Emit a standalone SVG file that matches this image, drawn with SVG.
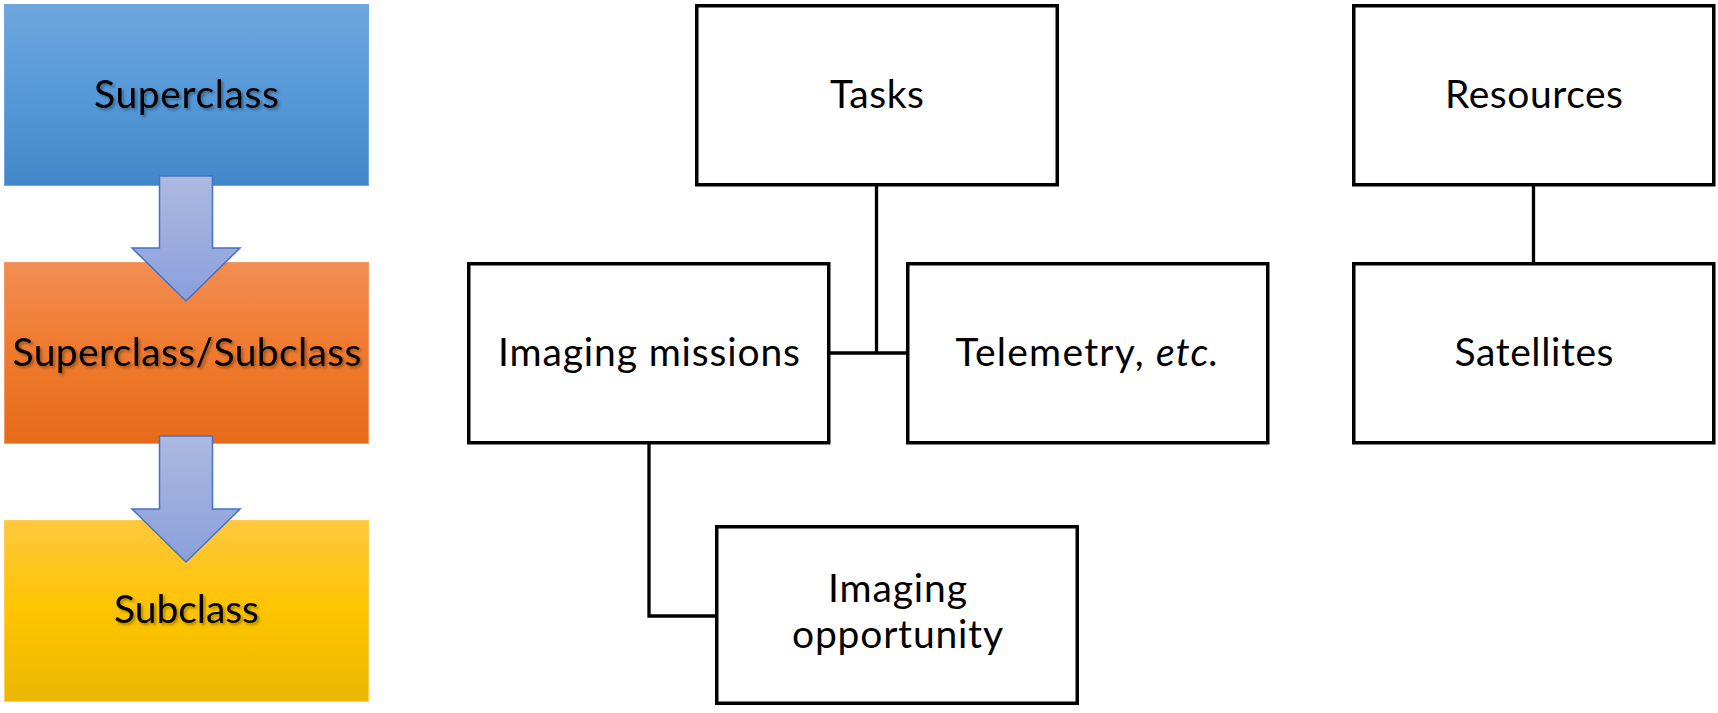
<svg xmlns="http://www.w3.org/2000/svg" width="1718" height="713" viewBox="0 0 1718 713">
<style>
.box{fill:#ffffff;stroke:#000000;stroke-width:3.5}
.lbl{font-family:Lato,"Liberation Sans",sans-serif;font-size:39px;fill:#000000;text-anchor:middle}
.sh{filter:url(#shadow)}
.conn{fill:none;stroke:#000000;stroke-width:3.3}
.arrow{fill:url(#gArrow);stroke:#4472C4;stroke-width:1.5}
</style>
<defs>
<linearGradient id="gBlue" x1="0" y1="0" x2="0" y2="1">
<stop offset="0" stop-color="#6FA6DE"/><stop offset="0.5" stop-color="#5599D8"/><stop offset="1" stop-color="#4287C8"/>
</linearGradient>
<linearGradient id="gOrange" x1="0" y1="0" x2="0" y2="1">
<stop offset="0" stop-color="#F28D52"/><stop offset="0.5" stop-color="#F07A2E"/><stop offset="1" stop-color="#E56B1A"/>
</linearGradient>
<linearGradient id="gYellow" x1="0" y1="0" x2="0" y2="1">
<stop offset="0" stop-color="#FFC73D"/><stop offset="0.5" stop-color="#FFC400"/><stop offset="1" stop-color="#EBB800"/>
</linearGradient>
<linearGradient id="gArrow" x1="0" y1="0" x2="0" y2="1">
<stop offset="0" stop-color="#ACB9E1"/><stop offset="1" stop-color="#8AA0DC"/>
</linearGradient>
<filter id="shadow" x="-10%" y="-30%" width="120%" height="160%">
<feDropShadow dx="2" dy="2" stdDeviation="1.5" flood-color="#000000" flood-opacity="0.35"/>
</filter>
</defs>
<rect width="1718" height="713" fill="#ffffff"/>

<g id="superclass">
<rect x="4.5" y="4.5" width="364" height="181" fill="url(#gBlue)" stroke="#6FA6DE" stroke-width="1"/>
<text class="lbl sh" x="186.5" y="108" textLength="185" lengthAdjust="spacing">Superclass</text>
</g>
<g id="superclass-subclass">
<rect x="4.5" y="262.5" width="364" height="181" fill="url(#gOrange)" stroke="#F29A63" stroke-width="1"/>
<text class="lbl sh" x="187" y="366" textLength="349" lengthAdjust="spacing">Superclass/Subclass</text>
</g>
<g id="subclass">
<rect x="4.5" y="520.5" width="364" height="181" fill="url(#gYellow)" stroke="#FFCC4D" stroke-width="1"/>
<text class="lbl sh" x="186.5" y="623" textLength="145" lengthAdjust="spacing">Subclass</text>
</g>
<g id="arrows">
<path class="arrow" d="M159.5,176 H212.5 V248 H240 L186,301 L132,248 H159.5 Z"/>
<path class="arrow" d="M159.5,436 H212.5 V509 H240 L186,562 L132,509 H159.5 Z"/>
</g>

<g id="connectors">
<path class="conn" d="M876.5,186 V353"/>
<path class="conn" d="M830,353 H906"/>
<path class="conn" d="M1533.5,186 V262"/>
<path class="conn" d="M649,444 V616 H715"/>
</g>

<g id="tasks">
<rect class="box" x="696.75" y="5.75" width="360.5" height="179"/>
<text class="lbl" x="877" y="108" textLength="94" lengthAdjust="spacing">Tasks</text>
</g>
<g id="resources">
<rect class="box" x="1353.75" y="5.75" width="360" height="179"/>
<text class="lbl" x="1534" y="108" textLength="178" lengthAdjust="spacing">Resources</text>
</g>
<g id="imaging-missions">
<rect class="box" x="468.75" y="263.75" width="360" height="179"/>
<text class="lbl" x="649" y="366" textLength="302" lengthAdjust="spacing">Imaging missions</text>
</g>
<g id="telemetry">
<rect class="box" x="907.75" y="263.75" width="360" height="179"/>
<text class="lbl" x="1087" y="366" textLength="263" lengthAdjust="spacing">Telemetry, <tspan font-style="italic">etc.</tspan></text>
</g>
<g id="satellites">
<rect class="box" x="1353.75" y="263.75" width="360" height="179"/>
<text class="lbl" x="1534" y="366" textLength="159" lengthAdjust="spacing">Satellites</text>
</g>
<g id="imaging-opportunity">
<rect class="box" x="716.75" y="526.75" width="360.5" height="176.5"/>
<text class="lbl" x="897.5" y="602" textLength="139" lengthAdjust="spacing">Imaging</text>
<text class="lbl" x="897.5" y="648" textLength="211" lengthAdjust="spacing">opportunity</text>
</g>
</svg>
